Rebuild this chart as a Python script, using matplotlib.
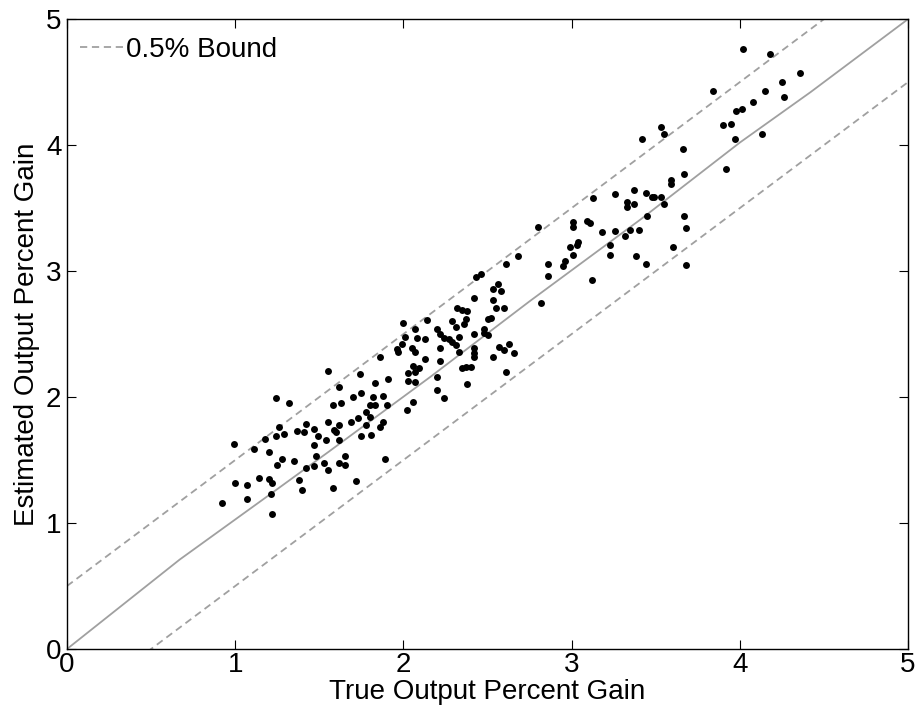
"""Estimated vs. true output percent gain, with 0.5% bounds."""
import matplotlib
matplotlib.use('Agg')
import matplotlib.pyplot as plt

plt.rcParams['font.family'] = ['Liberation Sans', 'DejaVu Sans']

# scatter data
true_gain = [
    1.55, 1.24, 1.32, 1.42, 1.26, 1.55, 1.37, 1.41, 1.47, 1.24, 1.29, 1.18,
    1.49, 1.54, 0.99, 1.11, 1.47, 1.20, 1.48, 1.28, 1.35, 1.25, 1.53, 1.42,
    1.47, 1.55, 1.14, 1.20, 1.22, 1.00, 1.07, 1.38, 1.21, 1.40, 1.07, 0.92,
    1.22,
    2.00, 2.14, 2.07, 2.01, 2.08, 2.13, 1.99, 1.96, 1.97, 2.05, 2.07, 1.86,
    2.13, 2.06, 2.09, 2.03, 2.07, 1.74, 1.62, 1.91, 1.83, 2.03, 2.07, 1.70,
    1.75, 1.82, 1.88, 1.58, 1.63, 1.80, 1.83, 1.90, 2.06, 2.02, 1.78, 1.80,
    1.73, 1.69, 1.88, 1.78, 1.86, 1.62, 1.59, 1.60, 1.62, 1.75, 1.81, 1.65,
    1.62, 1.65, 1.89, 1.72, 1.58,
    2.68, 2.61, 2.46, 2.43, 2.56, 2.53, 2.58, 2.42, 2.53, 2.55, 2.60, 2.32,
    2.35, 2.38, 2.52, 2.50, 2.37, 2.29, 2.36, 2.31, 2.20, 2.22, 2.24, 2.48,
    2.42, 2.48, 2.50, 2.33, 2.27, 2.29, 2.31, 2.22, 2.42, 2.42, 2.42, 2.33,
    2.57, 2.60, 2.63, 2.66, 2.53, 2.22, 2.40, 2.37, 2.35, 2.61, 2.20, 2.38,
    2.20, 2.24,
    3.26, 3.37, 3.33, 3.37, 3.33, 3.13, 2.80, 3.01, 3.01, 3.09, 3.11, 3.18,
    3.26, 3.35, 3.40, 3.32, 3.04, 3.03, 2.99, 3.23, 3.01, 3.23, 3.38, 2.96,
    2.86, 2.95, 2.86, 3.12, 2.82,
    3.53, 3.55, 3.42, 3.90, 3.95, 3.97, 3.66, 3.67, 3.59, 3.59, 3.92, 3.44,
    3.48, 3.49, 3.53, 3.55, 3.45, 3.67, 3.68, 3.60, 3.44, 3.68, 3.98, 3.84,
    4.02, 4.18, 4.36, 4.25, 4.15, 4.26, 4.08, 4.01, 4.13,
]
est_gain = [
    2.21, 1.99, 1.95, 1.79, 1.76, 1.80, 1.73, 1.72, 1.75, 1.69, 1.71, 1.67,
    1.69, 1.66, 1.63, 1.59, 1.62, 1.56, 1.53, 1.51, 1.49, 1.46, 1.48, 1.44,
    1.45, 1.42, 1.36, 1.35, 1.32, 1.32, 1.30, 1.34, 1.23, 1.26, 1.19, 1.16,
    1.07,
    2.59, 2.61, 2.54, 2.48, 2.47, 2.46, 2.42, 2.38, 2.36, 2.39, 2.36, 2.32,
    2.30, 2.25, 2.23, 2.19, 2.20, 2.18, 2.08, 2.14, 2.11, 2.13, 2.12, 2.00,
    2.03, 2.00, 2.01, 1.94, 1.95, 1.94, 1.94, 1.94, 1.96, 1.90, 1.88, 1.84,
    1.83, 1.80, 1.80, 1.78, 1.76, 1.78, 1.74, 1.72, 1.66, 1.69, 1.70, 1.53,
    1.48, 1.46, 1.51, 1.33, 1.28,
    3.12, 3.06, 2.98, 2.95, 2.90, 2.86, 2.84, 2.79, 2.77, 2.71, 2.71, 2.71,
    2.69, 2.68, 2.63, 2.62, 2.62, 2.60, 2.58, 2.56, 2.54, 2.50, 2.47, 2.54,
    2.50, 2.51, 2.49, 2.48, 2.46, 2.44, 2.41, 2.39, 2.39, 2.35, 2.32, 2.36,
    2.40, 2.37, 2.42, 2.35, 2.32, 2.29, 2.24, 2.24, 2.23, 2.20, 2.16, 2.10,
    2.06, 1.99,
    3.61, 3.64, 3.55, 3.53, 3.51, 3.58, 3.35, 3.39, 3.35, 3.40, 3.38, 3.31,
    3.32, 3.33, 3.33, 3.28, 3.23, 3.21, 3.19, 3.21, 3.13, 3.13, 3.12, 3.08,
    3.06, 3.04, 2.96, 2.93, 2.75,
    4.14, 4.09, 4.05, 4.16, 4.17, 4.05, 3.97, 3.77, 3.72, 3.69, 3.81, 3.62,
    3.59, 3.59, 3.59, 3.53, 3.44, 3.44, 3.34, 3.19, 3.06, 3.05, 4.27, 4.43,
    4.76, 4.72, 4.57, 4.50, 4.43, 4.38, 4.34, 4.29, 4.09,
]

# fitted trend line
fit_x = [0.0, 0.67, 1.22, 1.56, 2.16, 2.75, 3.41, 4.00, 4.42, 5.0]
fit_y = [0.0, 0.71, 1.24, 1.57, 2.16, 2.76, 3.41, 4.02, 4.42, 5.0]

bound = 0.5
lim = [0, 5]
ticks = [0, 1, 2, 3, 4, 5]

grey = '#a0a0a0'

fig = plt.figure(figsize=(9.2, 7.08), dpi=100)
ax = fig.add_axes([0.0728, 0.0833, 0.9142, 0.8897])

ax.plot(lim, [lim[0] + bound, lim[1] + bound], '--', color=grey, lw=1.3,
        dashes=(4, 2.6), label='0.5% Bound')
ax.plot(lim, [lim[0] - bound, lim[1] - bound], '--', color=grey, lw=1.3,
        dashes=(4, 2.6))
ax.plot(fit_x, fit_y, '-', color=grey, lw=1.3)
ax.plot(true_gain, est_gain, 'o', ms=5, mfc='k', mec='k', mew=0,
        linestyle='none')

ax.set_xlim(lim)
ax.set_ylim(lim)
ax.set_xticks(ticks)
ax.set_yticks(ticks)
ax.tick_params(direction='in', length=6.5, width=0.8, top=True,
               right=True, labelsize=20)
ax.tick_params(axis='x', pad=2)
ax.tick_params(axis='y', pad=4)
for sp in ax.spines.values():
    sp.set_linewidth(1.0)

ax.set_xlabel('True Output Percent Gain', fontsize=20, labelpad=1)
ax.set_ylabel('Estimated Output Percent Gain', fontsize=20, labelpad=4)

ax.legend(loc='upper left', bbox_to_anchor=(0.004, 0.987), frameon=False,
          fontsize=20, handlelength=1.55, handletextpad=0.12,
          borderaxespad=0.05, borderpad=0.3)

fig.savefig('out.png', dpi=100)
